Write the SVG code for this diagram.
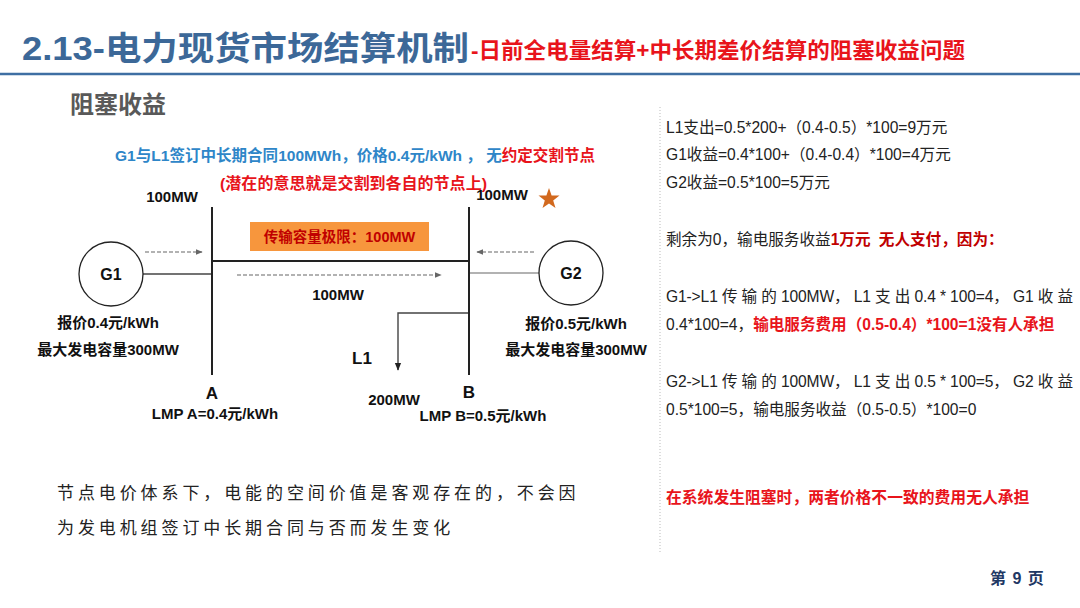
<svg xmlns="http://www.w3.org/2000/svg" width="1080" height="608" viewBox="0 0 1080 608">
<defs>
<style>
text{font-family:"Liberation Sans","Noto Sans CJK SC",sans-serif;}
.b{font-weight:bold;}
.lbl{font-size:15px;font-weight:bold;fill:#111;}
.t14{font-size:15.6px;fill:#222;}
.dash{stroke:#666;stroke-width:1.2;stroke-dasharray:4 2;fill:none;}
.bus{stroke:#222;stroke-width:2;}
.wire{stroke:#444;stroke-width:1.4;fill:none;}
</style>
<marker id="ag" viewBox="0 0 10 10" refX="9" refY="5" markerWidth="7" markerHeight="7" orient="auto" markerUnits="userSpaceOnUse"><path d="M0,1L10,5L0,9z" fill="#666"/></marker>
<marker id="ak" viewBox="0 0 10 10" refX="9" refY="5" markerWidth="8" markerHeight="8" orient="auto" markerUnits="userSpaceOnUse"><path d="M0,1L10,5L0,9z" fill="#222"/></marker>
</defs>
<rect width="1080" height="608" fill="#fff"/>

<g id="header">
<text x="22" y="60" class="b" font-size="33" fill="#3C6898" textLength="447" lengthAdjust="spacingAndGlyphs">2.13-电力现货市场结算机制</text>
<text x="471" y="58" class="b" font-size="22" fill="#E8141B" textLength="494" lengthAdjust="spacingAndGlyphs">-日前全电量结算+中长期差价结算的阻塞收益问题</text>
<line x1="0" y1="74" x2="1080" y2="74" stroke="#3E6FA3" stroke-width="2.5"/>
<text x="70" y="113" class="b" font-size="24" fill="#595959">阻塞收益</text>
</g>

<g id="contract">
<text x="115" y="161" class="b" font-size="15.5" fill="#2E86C8" textLength="480" lengthAdjust="spacingAndGlyphs">G1与L1签订中长期合同100MWh，价格0.4元/kWh ， 无<tspan fill="#E8141B">约定交割节点</tspan></text>
<text x="220" y="189" class="b" font-size="15.5" fill="#E8141B" textLength="267" lengthAdjust="spacingAndGlyphs">(潜在的意思就是交割到各自的节点上)</text>
</g>

<g id="connectors">
<line x1="212" y1="261" x2="469" y2="261" class="bus" stroke-width="1.6"/>
<line x1="143" y1="274" x2="212" y2="274" class="wire"/>
<line x1="469" y1="273" x2="539" y2="273" stroke="#999" stroke-width="1.6"/>
<line x1="145" y1="252" x2="202" y2="252" class="dash" marker-end="url(#ag)"/>
<line x1="534" y1="252" x2="477" y2="252" class="dash" marker-end="url(#ag)"/>
<line x1="237" y1="275" x2="441" y2="275" class="dash" marker-end="url(#ag)"/>
<polyline points="469,313 398,313 398,370" class="wire" marker-end="url(#ak)"/>
</g>

<g id="busA">
<line x1="212" y1="207" x2="212" y2="375" class="bus"/>
<text x="212" y="399" class="b" font-size="17" text-anchor="middle" fill="#111">A</text>
<text x="215" y="419" class="lbl" text-anchor="middle">LMP A=0.4元/kWh</text>
<text x="172" y="202" class="lbl" text-anchor="middle">100MW</text>
</g>

<g id="busB">
<line x1="469" y1="207" x2="469" y2="375" class="bus"/>
<text x="469" y="398" class="b" font-size="17" text-anchor="middle" fill="#111">B</text>
<text x="483" y="421" class="lbl" text-anchor="middle">LMP B=0.5元/kWh</text>
<text x="502" y="200" class="lbl" text-anchor="middle">100MW</text>
<polygon points="549,188 551.6,195.4 559.5,195.6 553.2,200.4 555.5,208 549,203.5 542.5,208 544.8,200.4 538.5,195.6 546.4,195.4" fill="#D2691E"/>
</g>

<g id="limit">
<rect x="250" y="222" width="179" height="29" fill="#F7963D"/>
<text x="339.5" y="242" class="b" font-size="14.5" text-anchor="middle" fill="#C00000">传输容量极限：100MW</text>
<text x="338" y="300" class="lbl" text-anchor="middle">100MW</text>
</g>

<g id="G1">
<circle cx="111" cy="274" r="32" fill="#fff" stroke="#222" stroke-width="1.3"/>
<text x="111" y="280" class="b" font-size="16" text-anchor="middle" fill="#111">G1</text>
<text x="108" y="328" class="lbl" text-anchor="middle">报价0.4元/kWh</text>
<text x="108" y="355" class="lbl" text-anchor="middle">最大发电容量300MW</text>
</g>

<g id="G2">
<circle cx="571" cy="273" r="32" fill="#fff" stroke="#222" stroke-width="1.3"/>
<text x="571" y="279" class="b" font-size="16" text-anchor="middle" fill="#111">G2</text>
<text x="576" y="329" class="lbl" text-anchor="middle">报价0.5元/kWh</text>
<text x="576" y="355" class="lbl" text-anchor="middle">最大发电容量300MW</text>
</g>

<g id="L1">
<text x="362" y="364" class="b" font-size="17" text-anchor="middle" fill="#111">L1</text>
<text x="394" y="405" class="lbl" text-anchor="middle">200MW</text>
</g>

<g id="note">
<text x="57" y="499" font-size="17" fill="#222" letter-spacing="3.9">节点电价体系下，电能的空间价值是客观存在的，不会因</text>
<text x="57" y="534" font-size="17" fill="#222" letter-spacing="3.9">为发电机组签订中长期合同与否而发生变化</text>
</g>

<g id="panel">
<line x1="660" y1="107" x2="660" y2="552" stroke="#bbb" stroke-width="1" stroke-dasharray="1 2"/>
<text x="666" y="133" class="t14">L1支出=0.5*200+（0.4-0.5）*100=9万元</text>
<text x="666" y="160" class="t14">G1收益=0.4*100+（0.4-0.4）*100=4万元</text>
<text x="666" y="188" class="t14">G2收益=0.5*100=5万元</text>
<text x="666" y="245" class="t14">剩余为0，输电服务收益<tspan class="b" fill="#C00000">1万元 </tspan><tspan class="b" fill="#C00000" dx="4">无人支付，因为：</tspan></text>
<text x="666" y="302" class="t14" textLength="407" lengthAdjust="spacing">G1-&gt;L1 传 输 的 100MW， L1 支 出 0.4 * 100=4， G1 收 益</text>
<text x="666" y="330" class="t14">0.4*100=4，<tspan class="b" fill="#E8141B">输电服务费用（0.5-0.4）*100=1没有人承担</tspan></text>
<text x="666" y="387" class="t14" textLength="407" lengthAdjust="spacing">G2-&gt;L1 传 输 的 100MW， L1 支 出 0.5 * 100=5， G2 收 益</text>
<text x="666" y="415" class="t14">0.5*100=5，输电服务收益（0.5-0.5）*100=0</text>
<text x="666" y="503" class="b" font-size="15.8" fill="#E8141B">在系统发生阻塞时，两者价格不一致的费用无人承担</text>
</g>

<g id="footer">
<text x="990" y="584" class="b" font-size="16" fill="#1F3864" word-spacing="2">第 9 页</text>
</g>
</svg>
